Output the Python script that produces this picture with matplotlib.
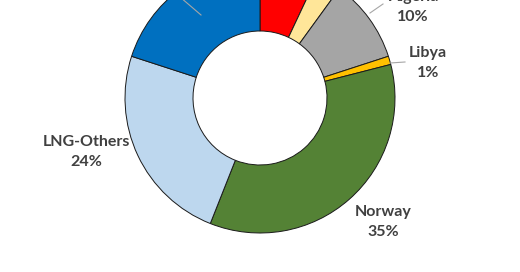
import matplotlib.pyplot as plt

# Supply shares (%), clockwise from 12 o'clock
sources = ["Russia", "Azerbaijan", "Algeria", "Libya", "Norway", "LNG-Others", "LNG-USA"]
shares = [7, 3, 10, 1, 35, 24, 20]
colors = ["#FF0000", "#FFE699", "#A5A5A5", "#FFC000", "#548235", "#BDD7EE", "#0070C0"]

W, H = 520, 272
fig = plt.figure(figsize=(W / 100, H / 100), dpi=100)
ax = fig.add_axes([0, 0, 1, 1])

cx, cy = 260, H - 98
R = 135
ax.pie(shares, colors=colors, startangle=90, counterclock=False,
       center=(cx, cy), radius=R, frame=True,
       wedgeprops=dict(width=R - 67, edgecolor="#1a1a1a", linewidth=0.7))
ax.set_xlim(0, W)
ax.set_ylim(0, H)
ax.set_aspect("equal")
ax.axis("off")

txt = dict(color="#404040", fontsize=11.5, fontweight="bold",
           family=["Lato", "DejaVu Sans"], ha="center", va="center",
           linespacing=1.5)

labels = {
    "Algeria": (413, 7),
    "Libya": (428, 63),
    "Norway": (383, 222),
    "LNG-Others": (86, 152),
}
for name, (x, y) in labels.items():
    v = shares[sources.index(name)]
    ax.text(x, H - y, f"{name}\n{v}%", **txt)

# leader lines
lc = "#A6A6A6"
ax.plot([370, 383], [H - 13, H - 4], color=lc, lw=0.8)
ax.plot([390, 405], [H - 63, H - 62], color=lc, lw=0.8)
ax.plot([201, 180], [H - 15, H + 3], color=lc, lw=0.8)

fig.savefig("out.png", dpi=100)
